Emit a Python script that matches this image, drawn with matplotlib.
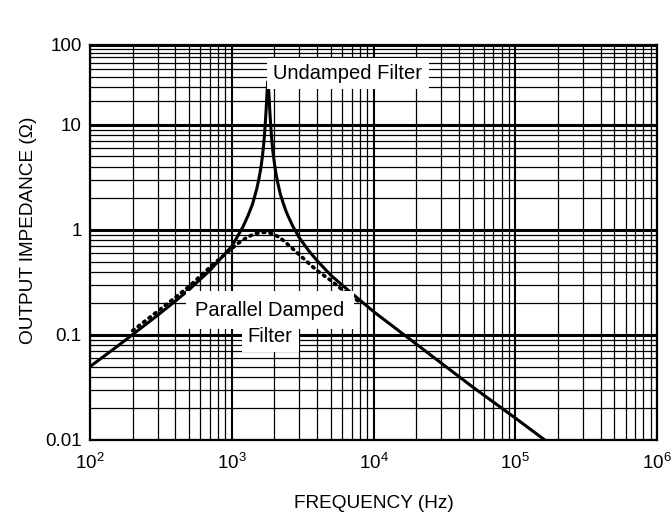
import matplotlib
matplotlib.use("Agg")
import matplotlib.pyplot as plt
import matplotlib.ticker as mticker
import numpy as np

plt.rcParams['font.family'] = ['Liberation Sans', 'DejaVu Sans']
plt.rcParams['mathtext.fontset'] = 'custom'
plt.rcParams['mathtext.rm'] = 'Liberation Sans'
plt.rcParams['mathtext.default'] = 'regular'

# undamped LC filter (solid)
freq_undamped = [100, 150, 200, 300, 400, 500, 700, 1000, 1100, 1200, 1300, 1400, 1500,
                 1550, 1600, 1625, 1650, 1675, 1700, 1725, 1750, 1760, 1775, 1790, 1800,
                 1810, 1825, 1840, 1850, 1875, 1900, 1925, 1950, 2000, 2050, 2100, 2200,
                 2300, 2400, 2500, 2700, 3000, 3500, 4000, 5000, 7000, 10000, 20000,
                 50000, 100000, 160000]
z_undamped = [0.050, 0.075, 0.101, 0.154, 0.21, 0.27, 0.41, 0.70, 0.87, 1.07, 1.36, 1.75, 2.45,
              3.0, 3.8, 4.4, 5.2, 6.25, 7.9, 10.6, 15.9, 20, 26, 32, 35,
              32, 26, 20.5, 16.5, 11.0, 8.3, 6.7, 5.6, 4.3, 3.45, 2.9, 2.2,
              1.82, 1.54, 1.35, 1.08, 0.84, 0.63, 0.51, 0.37, 0.25, 0.167, 0.082,
              0.032, 0.0162, 0.0101]

# parallel damped filter (dotted)
freq_damped = [200, 300, 400, 500, 700, 900, 1100, 1300, 1500, 1700, 1900, 2200,
               2600, 3000, 3500, 4000, 5000, 6000, 7000, 8000]
z_damped = [0.110, 0.168, 0.228, 0.29, 0.44, 0.59, 0.74, 0.86, 0.93, 0.95, 0.93, 0.84,
            0.69, 0.58, 0.48, 0.41, 0.33, 0.27, 0.235, 0.205]

x_major = [1e2, 1e3, 1e4, 1e5, 1e6]
x_labels = ['$10^{2}$', '$10^{3}$', '$10^{4}$', '$10^{5}$', '$10^{6}$']
y_major = [0.01, 0.1, 1, 10, 100]
y_labels = ['0.01', '0.1', '1', '10', '100']

TOP_SQUEEZE = 0.76  # the 10..100 decade is drawn shorter than the others


def fwd(y):
    t = np.log10(np.maximum(np.asarray(y, dtype=float), 1e-300))
    return np.where(t > 1, 1 + TOP_SQUEEZE * (t - 1), t)


def inv(u):
    u = np.asarray(u, dtype=float)
    return np.where(u > 1, 10 ** (1 + (u - 1) / TOP_SQUEEZE), 10 ** u)


def main():
    fig = plt.figure(figsize=(6.72, 5.18), dpi=100)
    ax = fig.add_axes([90 / 672, 78 / 518, 567 / 672, 395 / 518])

    ax.set_xscale('log')
    ax.set_yscale('function', functions=(fwd, inv))
    ax.set_xlim(1e2, 1e6)
    ax.set_ylim(0.01, 100)

    ax.xaxis.set_major_locator(mticker.FixedLocator(x_major))
    ax.xaxis.set_minor_locator(mticker.FixedLocator(
        [k * 10.0 ** n for n in range(2, 6) for k in range(2, 10)]))
    ax.xaxis.set_major_formatter(mticker.FixedFormatter(x_labels))
    ax.xaxis.set_minor_formatter(mticker.NullFormatter())

    ax.yaxis.set_major_locator(mticker.FixedLocator(y_major))
    ax.yaxis.set_minor_locator(mticker.FixedLocator(
        [k * 10.0 ** n for n in range(-2, 2) for k in range(2, 10)]))
    ax.yaxis.set_major_formatter(mticker.FixedFormatter(y_labels))
    ax.yaxis.set_minor_formatter(mticker.NullFormatter())

    ax.set_axisbelow(True)
    ax.grid(True, which='major', axis='x', color='black', lw=1.5)
    ax.grid(True, which='major', axis='y', color='black', lw=2.2)
    ax.grid(True, which='minor', color='black', lw=0.9)

    ax.tick_params(which='both', length=0)
    ax.tick_params(axis='x', which='major', pad=9, labelsize=13.5)
    ax.tick_params(axis='y', which='major', pad=6, labelsize=13.5)
    for s in ax.spines.values():
        s.set_linewidth(1.6)

    ax.plot(freq_undamped, z_undamped, color='black', lw=2.2, zorder=3)
    ax.plot(freq_damped, z_damped, color='black', lw=2.6,
            linestyle=(0, (0.5, 1.4)), dash_capstyle='round', zorder=3)

    box = dict(boxstyle='square,pad=0.3', fc='white', ec='none')
    ax.text(0.455, 0.927, 'Undamped Filter', transform=ax.transAxes,
            ha='center', va='center', fontsize=14.5, bbox=box, zorder=4)
    ax.text(0.3175, 0.329, 'Parallel Damped', transform=ax.transAxes,
            ha='center', va='center', fontsize=14.5,
            bbox=dict(boxstyle='square,pad=0.45', fc='white', ec='none'), zorder=4)
    ax.text(0.318, 0.261, 'Filter', transform=ax.transAxes,
            ha='center', va='center', fontsize=14.5, bbox=box, zorder=4)

    ax.set_xlabel('FREQUENCY (Hz)', fontsize=13.7)
    ax.xaxis.set_label_coords(0.5, -0.14)
    ax.set_ylabel('OUTPUT IMPEDANCE (Ω)', fontsize=13.7)
    ax.yaxis.set_label_coords(-0.093, 0.532)

    fig.savefig('out.png', dpi=100)


if __name__ == "__main__":
    main()
